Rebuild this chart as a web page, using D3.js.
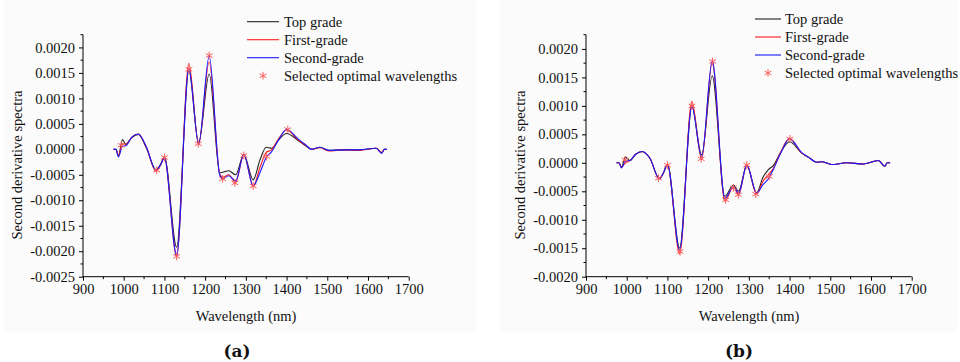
<!DOCTYPE html>
<html>
<head>
<meta charset="utf-8">
<script src="https://cdn.jsdelivr.net/npm/d3@7"></script>
<style>
body { margin: 0; background: #fff; }
text { font-family: "Liberation Serif", "Times New Roman", serif; fill: #111; }
</style>
</head>
<body>
<div id="plot"></div>
<script>
// values, x 1e-4 units for the spectra
var seriesNames = ['Top grade', 'First-grade', 'Second-grade']
var seriesColors = ['#222', '#ff1a1a', '#1a1aff']
var starName = 'Selected optimal wavelengths'

var wlA = [975, 981, 987, 997, 1005, 1020, 1036, 1056, 1079, 1090, 1100, 1130, 1160, 1184, 1210, 1236, 1243, 1258, 1275, 1295, 1318, 1335, 1350, 1363, 1380, 1400, 1429, 1445, 1462, 1482, 1503, 1540, 1580, 1620, 1634, 1640, 1646]
var topA    = [0, 0, -1.3, 1.9, 1.0, 2.3, 2.9, 0.2, -4.0, -3.0, -1.5, -19.2, 15.4, 1.3, 14.8, -4.6, -4.5, -4.2, -5.0, -1.0, -6.0, -2.0, 0.4, 0.2, 1.8, 3.1, 1.7, 0.8, 0.0, 0.4, -0.2, -0.1, -0.1, 0.2, -0.7, 0, 0]
var firstA  = [0, 0, -1.2, 1.1, 1.0, 2.4, 3.0, 0.3, -4.3, -3.2, -1.6, -21.0, 16.9, 1.0, 17.2, -4.9, -5.5, -5.0, -6.5, -1.0, -7.2, -3.5, -0.6, -0.1, 2.0, 3.8, 1.8, 0.9, 0.0, 0.3, -0.3, -0.1, -0.2, 0.2, -0.6, 0, 0]
var secondA = [0, 0, -1.5, 0.6, 0.7, 2.4, 3.0, 0.4, -4.1, -3.1, -1.7, -20.8, 15.9, 1.0, 18.3, -5.1, -5.8, -5.2, -6.2, -1.0, -7.2, -4.5, -1.6, -0.5, 1.8, 3.9, 2.0, 1.0, 0.0, 0.4, -0.2, -0.1, -0.1, 0.2, -0.8, 0, 0]
var starWlA  = [994, 1081, 1100, 1130, 1160, 1183, 1210, 1243, 1273, 1295, 1318, 1351, 1403]
var starValA = [0.8, -4.1, -1.6, -21.0, 15.7, 1.1, 18.4, -5.8, -6.6, -1.2, -7.2, -1.4, 3.9]

var wlB = [975, 981, 987, 997, 1008, 1022, 1038, 1057, 1080, 1090, 1100, 1130, 1160, 1184, 1210, 1241, 1262, 1275, 1295, 1319, 1335, 1348, 1360, 1377, 1400, 1430, 1446, 1467, 1479, 1503, 1540, 1581, 1618, 1634, 1640, 1647]
var topB    = [0, 0, -0.8, 1.0, 0.4, 1.5, 2.0, 0.8, -2.8, -1.8, -0.3, -15.0, 9.9, 1.4, 15.3, -5.9, -3.9, -5.0, -0.4, -5.3, -2.5, -1.2, -0.5, 1.7, 3.7, 1.7, 1.0, 0.1, 0.2, -0.3, 0.0, -0.2, 0.4, -0.6, 0, 0]
var firstB  = [0, 0, -0.7, 0.0, 0.4, 1.5, 2.0, 0.8, -2.8, -1.8, -0.3, -16.0, 10.8, 0.6, 17.6, -6.7, -4.3, -5.6, -0.4, -5.5, -3.2, -2.1, -1.0, 1.7, 4.3, 1.7, 1.0, 0.1, 0.2, -0.3, 0.0, -0.2, 0.4, -0.6, 0, 0]
var secondB = [0, 0, -0.9, 0.3, 0.4, 1.5, 2.0, 0.8, -2.8, -1.8, -0.3, -15.3, 9.9, 1.0, 17.9, -6.3, -4.2, -5.3, -0.4, -5.3, -3.8, -2.8, -1.2, 1.5, 4.2, 1.8, 1.0, 0.1, 0.2, -0.3, 0.0, -0.2, 0.4, -0.6, 0, 0]
var starWlB  = [996, 1078, 1100, 1131, 1160, 1183, 1211, 1243, 1262, 1274, 1295, 1317, 1350, 1401]
var starValB = [0.5, -2.7, -0.4, -15.6, 10.0, 0.7, 17.8, -6.5, -4.4, -5.6, -0.4, -5.5, -2.4, 4.2]

var xTicks = [900, 1000, 1100, 1200, 1300, 1400, 1500, 1600, 1700]
var yTicksA = [-0.0025, -0.0020, -0.0015, -0.0010, -0.0005, 0.0000, 0.0005, 0.0010, 0.0015, 0.0020]
var yTicksB = [-0.0020, -0.0015, -0.0010, -0.0005, 0.0000, 0.0005, 0.0010, 0.0015, 0.0020]

var svg = d3.select('#plot').append('svg')
	.attr('width', 960)
	.attr('height', 362)

svg.append('rect').attr('x', 4).attr('y', 0).attr('width', 472).attr('height', 332).attr('fill', '#fbfbfb')
svg.append('rect').attr('x', 500).attr('y', 0).attr('width', 458).attr('height', 332).attr('fill', '#fbfbfb')

function drawPanel(p){
	var x = d3.scaleLinear().domain([900, 1700]).range([p.left, p.left + 325.7])
	var y = d3.scaleLinear().domain([p.ymin, 0.00225]).range([276.7, 34.7])
	var g = svg.append('g')

	// minor ticks
	var xMinor = d3.range(950, 1700, 100)
	g.selectAll('.xm').data(xMinor).enter().append('line')
		.attr('x1', d => x(d)).attr('x2', d => x(d))
		.attr('y1', 276.7).attr('y2', 279.2)
		.attr('stroke', '#000')
	var yMinor = p.yticks.map(d => d + 0.00025)
	g.selectAll('.ym').data(yMinor).enter().append('line')
		.attr('x1', p.left - 2.5).attr('x2', p.left)
		.attr('y1', d => y(d)).attr('y2', d => y(d))
		.attr('stroke', '#000')

	var xAxis = d3.axisBottom(x).tickValues(xTicks).tickSize(4).tickPadding(3).tickFormat(d3.format('d'))
	var yAxis = d3.axisLeft(y).tickValues(p.yticks).tickSize(4).tickPadding(4).tickFormat(d => d.toFixed(4))
	var gx = g.append('g').attr('transform', 'translate(0,276.7)').call(xAxis)
	var gy = g.append('g').attr('transform', 'translate(' + p.left + ',0)').call(yAxis)
	;[gx, gy].forEach(function(a){
		a.select('.domain').remove()
		a.selectAll('text').style('font-family', '"Liberation Serif", serif').style('font-size', '14.5px').attr('fill', '#111')
	})
	g.append('line').attr('x1', p.left).attr('x2', p.left + 325.7).attr('y1', 276.7).attr('y2', 276.7).attr('stroke', '#000')
	g.append('line').attr('x1', p.left).attr('x2', p.left).attr('y1', 34.7).attr('y2', 277.5).attr('stroke', '#000')

	var line = d3.line()
		.x(d => x(d[0]))
		.y(d => y(d[1] * 1e-4))
		.curve(d3.curveMonotoneX)
	p.series.forEach(function(s, i){
		g.append('path')
			.attr('d', line(p.wl.map((w, j) => [w, s[j]])))
			.attr('fill', 'none')
			.attr('stroke', seriesColors[i])
			.attr('stroke-width', 1.1)
	})
	var star = d3.symbol(d3.symbolAsterisk, 42)
	g.selectAll('.star').data(p.starWl).enter().append('path')
		.attr('d', star)
		.attr('transform', (d, i) => 'translate(' + x(d) + ',' + y(p.starVal[i] * 1e-4) + ')')
		.attr('fill', 'none')
		.attr('stroke', '#ff5a5a')
		.attr('stroke-width', 1)

	// legend
	seriesNames.forEach(function(n, i){
		var ly = p.legY + i * 18
		g.append('line').attr('x1', p.legX).attr('x2', p.legX + p.legLen).attr('y1', ly).attr('y2', ly)
			.attr('stroke', seriesColors[i]).attr('stroke-width', 1.1)
		g.append('text').attr('x', p.legText).attr('y', ly + 5).style('font-size', '14.5px').text(n)
	})
	var sy = p.legY + 3 * 18
	g.append('path').attr('d', star).attr('transform', 'translate(' + (p.legX + p.legLen / 2) + ',' + sy + ')')
		.attr('fill', 'none').attr('stroke', '#ff5a5a')
	g.append('text').attr('x', p.legText).attr('y', sy + 5).style('font-size', '14.5px').text(starName)

	g.append('text')
		.attr('transform', 'translate(' + p.ylabX + ',165) rotate(-90)')
		.attr('text-anchor', 'middle').attr('dy', '0.35em')
		.style('font-size', '14.5px')
		.text('Second derivative spectra')
	g.append('text')
		.attr('x', p.left + 163).attr('y', 321)
		.attr('text-anchor', 'middle')
		.style('font-size', '14.5px')
		.text('Wavelength (nm)')
	g.append('text')
		.attr('x', p.tagX).attr('y', 357)
		.attr('text-anchor', 'middle')
		.style('font-family', '"DejaVu Serif", serif').style('font-size', '17px').style('font-weight', 'bold')
		.text(p.tag)
}

drawPanel({left: 83, ymin: -0.0025, yticks: yTicksA, wl: wlA, series: [topA, firstA, secondA],
	starWl: starWlA, starVal: starValA, legX: 247, legLen: 32, legText: 284, legY: 21.7, ylabX: 17, tagX: 237, tag: '(a)'})
drawPanel({left: 586, ymin: -0.0020, yticks: yTicksB, wl: wlB, series: [topB, firstB, secondB],
	starWl: starWlB, starVal: starValB, legX: 755, legLen: 26, legText: 785, legY: 19, ylabX: 520, tagX: 739, tag: '(b)'})
</script>
</body>
</html>
